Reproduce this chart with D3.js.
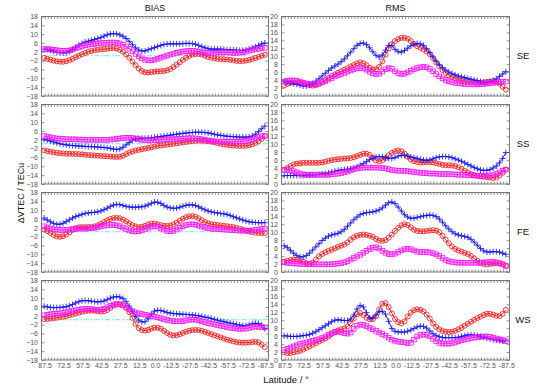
<!DOCTYPE html>
<html><head><meta charset="utf-8">
<script src="https://cdn.jsdelivr.net/npm/d3@7"></script>
<style>html,body{margin:0;padding:0;background:#fff;}svg{display:block;}</style>
</head><body>
<svg id="chart" width="537" height="387"></svg>
<script>
// ---- categories / ticks ----
const lat = [87.5,85,82.5,80,77.5,75,72.5,70,67.5,65,62.5,60,57.5,55,52.5,50,47.5,45,42.5,40,37.5,35,32.5,30,27.5,25,22.5,20,17.5,15,12.5,10,7.5,5,2.5,0,-2.5,-5,-7.5,-10,-12.5,-15,-17.5,-20,-22.5,-25,-27.5,-30,-32.5,-35,-37.5,-40,-42.5,-45,-47.5,-50,-52.5,-55,-57.5,-60,-62.5,-65,-67.5,-70,-72.5,-75,-77.5,-80,-82.5,-85,-87.5];
const xTickValues = [87.5,72.5,57.5,42.5,27.5,12.5,0,-12.5,-27.5,-42.5,-57.5,-72.5,-87.5];
const xTickLabels = ["87.5","72.5","57.5","42.5","27.5","12.5","0.0","-12.5","-27.5","-42.5","-57.5","-72.5","-87.5"];
const biasTicks = [18,14,10,6,2,-2,-6,-10,-14,-18];
const rmsTicks = [20,18,16,14,12,10,8,6,4,2,0];
const rowNames = ["SE","SS","FE","WS"];
const colNames = ["BIAS","RMS"];

// ---- series values (TECu) ----
const seBiasBlue = [3.0,2.8,2.5,2.0,1.6,1.4,1.3,1.5,2.0,2.8,3.8,4.8,5.6,6.2,6.6,7.0,7.4,7.8,8.3,8.9,9.5,9.9,10.0,9.9,9.5,8.8,7.8,6.5,5.0,3.6,2.6,2.1,2.2,2.7,3.2,3.7,4.2,4.7,5.1,5.3,5.4,5.4,5.4,5.4,5.5,5.6,5.6,5.5,5.2,4.7,4.1,3.6,3.2,3.0,3.0,3.0,3.0,2.9,2.8,2.7,2.6,2.5,2.4,2.4,2.6,3.0,3.5,4.1,4.7,5.3,5.8];
const seBiasRed = [-1.0,-1.4,-1.8,-2.2,-2.5,-2.7,-2.7,-2.5,-2.0,-1.4,-0.7,0.0,0.7,1.3,1.8,2.2,2.5,2.7,2.9,3.0,3.2,3.4,3.5,3.3,2.7,1.8,0.6,-0.9,-2.6,-4.3,-5.8,-6.9,-7.5,-7.6,-7.4,-7.2,-7.1,-7.0,-6.9,-6.6,-6.0,-5.1,-4.1,-3.0,-1.9,-0.9,-0.1,0.5,0.8,0.8,0.5,0.0,-0.5,-0.9,-1.2,-1.4,-1.5,-1.6,-1.7,-1.9,-2.1,-2.3,-2.4,-2.4,-2.2,-1.9,-1.5,-1.0,-0.5,0.0,0.4];
const seBiasMagenta = [3.0,3.0,2.9,2.7,2.5,2.3,2.2,2.2,2.4,2.8,3.3,3.8,4.3,4.7,5.0,5.2,5.4,5.6,5.7,5.8,5.9,6.0,6.0,5.9,5.6,5.0,4.2,3.2,2.0,0.8,-0.3,-1.2,-1.8,-2.1,-2.1,-1.8,-1.4,-0.9,-0.4,0.1,0.5,0.9,1.3,1.6,1.9,2.1,2.2,2.2,2.1,1.9,1.6,1.4,1.3,1.3,1.3,1.4,1.5,1.5,1.5,1.4,1.3,1.3,1.4,1.6,1.9,2.3,2.6,2.9,3.2,3.4,3.6];

const seRmsBlue = [3.6,3.4,3.2,3.0,2.8,2.6,2.4,2.4,2.6,3.0,3.6,4.2,4.9,5.6,6.3,6.9,7.4,7.9,8.5,9.2,10.0,10.9,11.8,12.6,13.1,13.2,12.8,12.0,11.0,10.1,9.7,10.2,11.4,12.6,12.6,11.6,11.0,10.9,11.3,11.9,12.5,12.9,13.1,13.0,12.6,11.8,10.8,9.7,8.6,7.7,7.0,6.4,5.9,5.5,5.2,4.9,4.7,4.5,4.3,4.1,3.9,3.7,3.5,3.4,3.4,3.5,3.8,4.2,4.8,5.4,6.0];
const seRmsRed = [2.6,2.9,3.2,3.3,3.3,3.2,3.0,2.8,2.6,2.5,2.6,2.9,3.4,3.9,4.4,4.9,5.3,5.7,6.1,6.5,6.9,7.3,7.7,8.1,8.3,8.1,7.6,7.0,6.6,6.6,7.2,8.6,10.3,11.8,12.9,13.7,14.2,14.5,14.5,14.3,13.7,13.0,12.4,12.0,11.6,11.1,10.4,9.4,8.3,7.3,6.4,5.7,5.1,4.7,4.3,4.0,3.8,3.6,3.5,3.4,3.3,3.2,3.2,3.3,3.4,3.5,3.6,3.5,3.0,2.2,1.5];
const seRmsMagenta = [3.5,3.7,3.8,3.8,3.7,3.5,3.2,3.0,2.9,2.8,2.8,3.0,3.3,3.6,4.0,4.4,4.8,5.1,5.4,5.7,6.0,6.3,6.6,6.8,6.9,6.8,6.5,6.0,5.6,5.4,5.5,6.0,6.6,6.9,6.7,6.1,5.6,5.4,5.5,5.8,6.2,6.6,6.9,7.1,7.2,7.1,6.7,6.1,5.4,4.8,4.3,3.9,3.6,3.4,3.2,3.1,3.0,2.9,2.9,2.8,2.8,2.8,2.8,2.9,3.0,3.1,3.2,3.3,3.4,3.5,3.5];

const ssBiasBlue = [2.0,1.6,1.2,0.8,0.4,0.0,-0.3,-0.5,-0.7,-0.8,-0.9,-1.0,-1.1,-1.2,-1.3,-1.3,-1.4,-1.5,-1.6,-1.7,-1.9,-2.1,-2.4,-2.6,-2.4,-1.6,-0.5,0.6,1.5,2.1,2.4,2.5,2.5,2.6,2.7,2.9,3.1,3.3,3.5,3.7,3.9,4.1,4.3,4.5,4.7,4.9,5.0,5.1,5.2,5.2,5.2,5.1,4.9,4.6,4.3,4.0,3.8,3.6,3.4,3.3,3.2,3.1,3.0,3.0,3.0,3.1,3.5,4.3,5.5,6.8,8.0];
const ssBiasRed = [-3.0,-3.3,-3.6,-3.9,-4.1,-4.3,-4.4,-4.5,-4.5,-4.6,-4.6,-4.7,-4.8,-5.0,-5.1,-5.2,-5.3,-5.4,-5.5,-5.6,-5.7,-5.8,-5.9,-6.0,-5.9,-5.4,-4.7,-4.0,-3.5,-3.1,-2.8,-2.5,-2.2,-1.9,-1.6,-1.3,-1.0,-0.8,-0.6,-0.4,-0.2,0.0,0.2,0.4,0.6,0.8,1.0,1.2,1.3,1.4,1.4,1.3,1.1,0.9,0.6,0.3,0.0,-0.3,-0.5,-0.7,-0.8,-0.9,-1.0,-1.0,-0.9,-0.7,-0.3,0.3,1.1,2.2,3.4];
const ssBiasMagenta = [3.5,3.2,2.9,2.6,2.4,2.3,2.2,2.1,2.0,2.0,2.0,1.9,1.9,1.8,1.8,1.8,1.8,1.8,1.8,1.8,1.8,1.9,2.0,2.2,2.4,2.6,2.7,2.7,2.6,2.4,2.1,1.8,1.6,1.5,1.5,1.6,1.7,1.8,1.9,2.0,2.0,2.0,2.1,2.2,2.3,2.4,2.5,2.5,2.4,2.2,2.0,1.8,1.5,1.3,1.1,1.0,0.9,0.9,0.9,0.9,0.9,0.9,1.0,1.1,1.3,1.6,2.0,2.5,3.0,3.4,3.7];

const ssRmsBlue = [2.0,2.0,2.0,2.0,2.0,2.0,2.0,2.1,2.1,2.2,2.2,2.3,2.4,2.5,2.7,2.9,3.1,3.3,3.4,3.5,3.6,3.7,3.9,4.2,4.6,5.0,5.5,6.0,6.4,6.7,6.8,6.7,6.5,6.3,6.3,6.5,6.9,7.1,7.1,6.9,6.7,6.5,6.3,6.1,5.9,5.8,5.9,6.2,6.5,6.7,6.8,6.8,6.7,6.5,6.2,5.9,5.6,5.2,4.8,4.4,4.0,3.7,3.4,3.3,3.3,3.5,3.9,4.4,5.2,6.3,7.8];
const ssRmsRed = [3.4,3.9,4.4,4.8,5.0,5.1,5.2,5.2,5.2,5.2,5.2,5.2,5.3,5.5,5.7,5.9,6.0,6.1,6.2,6.3,6.3,6.4,6.6,6.9,7.2,7.5,7.5,7.2,6.5,5.8,5.6,5.8,6.4,7.1,7.7,8.1,8.3,8.1,7.5,6.7,6.0,5.6,5.4,5.3,5.3,5.4,5.4,5.3,5.1,4.9,4.7,4.6,4.6,4.5,4.4,4.1,3.7,3.2,2.8,2.4,2.1,1.9,1.8,1.7,1.6,1.5,1.4,1.5,2.0,2.7,3.5];
const ssRmsMagenta = [3.5,3.4,3.3,3.1,2.8,2.5,2.3,2.2,2.2,2.2,2.2,2.2,2.2,2.2,2.2,2.3,2.4,2.5,2.6,2.8,3.0,3.3,3.6,3.8,3.9,4.0,4.0,4.0,4.0,4.0,4.0,3.9,3.8,3.6,3.4,3.3,3.2,3.2,3.2,3.1,3.0,2.9,2.8,2.7,2.6,2.6,2.5,2.5,2.5,2.4,2.4,2.4,2.4,2.3,2.3,2.2,2.2,2.2,2.1,2.1,2.0,2.0,1.9,1.9,1.9,2.0,2.1,2.4,2.8,3.2,3.5];

const feBiasBlue = [6.2,5.3,4.5,3.8,3.4,3.4,3.8,4.6,5.4,6.2,6.9,7.4,7.9,8.3,8.5,8.7,8.8,9.0,9.4,10.0,10.7,11.5,12.1,12.4,12.3,11.9,11.5,11.2,11.1,11.1,11.2,11.3,11.6,12.2,12.9,13.4,13.4,12.8,11.9,11.2,10.8,10.6,10.7,11.1,11.6,12.0,12.2,12.2,11.9,11.3,10.6,9.9,9.4,9.0,8.7,8.5,8.3,8.1,7.9,7.4,6.8,6.3,5.8,5.3,4.9,4.5,4.3,4.2,4.1,4.1,4.1];
const feBiasRed = [1.0,0.3,-0.6,-1.5,-2.1,-2.3,-2.0,-1.3,-0.3,0.8,1.6,2.0,2.1,2.1,2.1,2.2,2.4,2.9,3.6,4.4,5.2,5.8,6.2,6.3,6.1,5.5,4.7,3.8,3.0,2.4,2.1,2.2,2.7,3.3,3.7,3.7,3.4,3.0,2.7,2.6,2.8,3.3,4.1,5.0,5.9,6.6,7.0,7.1,6.8,6.1,5.2,4.4,3.8,3.4,3.2,3.0,2.9,2.7,2.5,2.3,2.1,1.8,1.4,0.9,0.5,0.1,-0.2,-0.4,-0.5,-0.6,-0.6];
const feBiasMagenta = [2.5,2.0,1.5,1.1,0.9,0.8,0.8,0.9,1.0,1.2,1.3,1.4,1.4,1.4,1.5,1.6,1.8,2.1,2.4,2.7,3.0,3.1,3.1,2.9,2.5,1.9,1.2,0.6,0.2,0.1,0.2,0.6,1.2,1.8,2.3,2.5,2.3,1.7,1.0,0.4,0.2,0.4,1.0,1.8,2.5,3.0,3.3,3.4,3.2,2.8,2.3,1.9,1.6,1.4,1.3,1.2,1.1,1.0,0.9,0.8,0.7,0.6,0.5,0.5,0.5,0.5,0.6,0.8,1.0,1.2,1.4];

const feRmsBlue = [6.5,6.0,5.3,4.6,4.0,3.7,3.7,4.0,4.6,5.4,6.2,7.0,7.8,8.4,8.9,9.2,9.4,9.6,10.0,10.6,11.4,12.2,13.0,13.7,14.3,14.6,14.8,14.9,15.0,15.2,15.5,16.0,16.7,17.3,17.5,17.1,16.2,15.2,14.3,13.7,13.4,13.4,13.6,13.8,14.0,14.1,14.2,14.1,13.8,13.2,12.4,11.5,10.7,10.0,9.5,9.2,9.0,8.8,8.6,8.1,7.4,6.6,5.8,5.2,4.9,4.9,5.0,5.0,4.9,4.6,4.3];
const feRmsRed = [2.5,2.7,2.9,3.0,3.0,2.8,2.5,2.1,1.9,2.2,3.0,3.8,4.4,4.8,5.2,5.5,5.8,6.2,6.5,6.8,7.3,8.0,8.6,9.0,9.2,9.3,9.2,9.0,8.7,8.2,7.8,7.7,7.9,8.5,9.3,10.2,11.0,11.6,11.9,11.7,11.1,10.5,10.2,10.1,10.1,10.2,10.3,10.4,10.3,9.9,9.0,8.0,7.1,6.3,5.7,5.3,5.0,4.7,4.4,3.9,3.3,2.7,2.2,1.9,1.8,1.9,2.0,2.1,2.0,1.8,1.5];
const feRmsMagenta = [2.3,2.2,2.1,2.0,2.0,1.9,1.9,1.9,1.8,1.8,1.8,1.8,1.8,1.8,1.8,1.8,1.9,2.0,2.1,2.3,2.6,3.0,3.4,3.8,4.2,4.7,5.2,5.6,6.0,6.1,5.8,5.2,4.7,4.4,4.3,4.5,4.9,5.3,5.6,5.7,5.6,5.3,5.0,4.9,4.9,4.9,4.8,4.6,4.3,3.9,3.4,2.9,2.6,2.4,2.3,2.2,2.2,2.2,2.2,2.2,2.2,2.2,2.2,2.3,2.3,2.4,2.4,2.3,2.1,1.8,1.4];

const wsBiasBlue = [6.1,5.8,5.6,5.5,5.5,5.6,5.7,5.9,6.3,6.9,7.6,8.2,8.6,8.7,8.6,8.4,8.2,8.1,8.2,8.5,9.1,9.8,10.3,10.5,10.3,9.6,8.2,6.2,3.8,1.5,-0.2,-1.0,-0.9,0.5,2.5,3.9,4.3,4.2,3.8,3.3,3.0,2.8,2.7,2.6,2.5,2.4,2.3,2.2,2.0,1.8,1.5,1.2,0.9,0.6,0.2,-0.2,-0.6,-0.9,-1.2,-1.5,-1.8,-2.1,-2.4,-2.6,-2.6,-2.3,-1.8,-1.6,-1.7,-2.4,-4.0];
const wsBiasRed = [0.3,0.4,0.5,0.7,0.9,1.1,1.4,1.7,2.0,2.4,2.8,3.2,3.6,3.9,4.1,4.2,4.1,3.9,3.7,3.8,4.4,5.4,6.4,6.9,7.0,6.6,5.4,3.4,0.8,-1.8,-3.8,-4.7,-4.9,-4.6,-4.0,-3.6,-3.6,-4.1,-5.0,-6.0,-6.8,-7.1,-7.0,-6.6,-6.0,-5.4,-5.0,-4.7,-4.6,-4.7,-5.0,-5.5,-6.0,-6.5,-7.0,-7.5,-8.0,-8.5,-9.0,-9.4,-9.8,-10.1,-10.3,-10.4,-10.4,-10.3,-10.1,-10.0,-10.3,-11.2,-12.4];
const wsBiasMagenta = [2.0,2.2,2.5,2.7,2.8,2.9,3.1,3.4,3.7,4.0,4.3,4.6,4.8,4.9,4.9,4.8,4.6,4.5,4.6,5.0,5.7,6.4,6.9,7.1,7.0,6.5,5.7,4.7,3.9,3.3,2.9,2.6,2.3,2.0,1.7,1.4,1.1,0.7,0.3,-0.1,-0.4,-0.6,-0.7,-0.7,-0.6,-0.3,0.0,0.1,0.0,-0.3,-0.7,-1.1,-1.5,-1.8,-2.1,-2.4,-2.7,-3.0,-3.3,-3.6,-3.8,-4.0,-4.1,-4.1,-4.0,-3.7,-3.3,-3.1,-3.2,-3.4,-3.5];

const wsRmsBlue = [6.0,5.9,5.8,5.8,5.8,5.9,6.0,6.1,6.3,6.6,7.0,7.5,8.0,8.5,9.0,9.5,9.9,10.0,9.9,9.8,9.8,10.2,11.2,12.7,13.6,13.2,11.8,10.5,10.4,11.2,12.0,12.1,11.4,9.6,7.8,7.1,6.9,6.9,6.9,7.1,7.4,7.8,8.2,8.4,8.3,7.9,7.2,6.5,6.0,5.7,5.5,5.5,5.5,5.5,5.5,5.6,5.8,6.0,6.2,6.2,6.1,6.0,5.8,5.6,5.4,5.2,5.0,4.9,4.8,4.7,4.7];
const wsRmsRed = [1.8,1.6,1.6,1.8,2.0,2.2,2.5,2.9,3.3,3.7,4.1,4.5,4.9,5.3,5.8,6.4,6.9,7.3,7.6,7.8,8.3,9.1,10.3,11.4,11.7,11.2,10.5,10.1,10.1,10.9,12.6,14.0,14.2,13.2,11.6,10.2,9.4,9.1,9.6,10.8,11.8,12.4,12.6,12.5,12.1,11.3,10.3,9.1,8.2,7.6,7.2,7.0,6.9,7.0,7.2,7.6,8.0,8.5,9.0,9.5,10.0,10.4,10.8,11.2,11.5,11.5,11.3,11.0,10.9,11.5,12.5];
const wsRmsMagenta = [2.4,2.7,3.0,3.3,3.6,3.9,4.1,4.3,4.5,4.7,4.9,5.1,5.4,5.8,6.2,6.6,6.9,7.0,6.9,6.6,6.5,6.8,7.7,8.5,8.8,8.7,8.4,8.0,7.6,7.2,6.8,6.4,6.0,5.5,5.0,4.7,4.5,4.4,4.3,4.1,4.2,5.0,5.8,6.2,6.3,6.2,5.8,5.2,4.6,4.2,4.0,4.0,4.0,4.1,4.3,4.6,4.8,5.0,5.2,5.4,5.5,5.6,5.7,5.8,5.8,5.7,5.5,5.3,5.1,4.9,4.6];

// ---- table built from the arrays ----
const panelData = {
  SE: {BIAS: {red: seBiasRed, blue: seBiasBlue, magenta: seBiasMagenta}, RMS: {red: seRmsRed, blue: seRmsBlue, magenta: seRmsMagenta}},
  SS: {BIAS: {red: ssBiasRed, blue: ssBiasBlue, magenta: ssBiasMagenta}, RMS: {red: ssRmsRed, blue: ssRmsBlue, magenta: ssRmsMagenta}},
  FE: {BIAS: {red: feBiasRed, blue: feBiasBlue, magenta: feBiasMagenta}, RMS: {red: feRmsRed, blue: feRmsBlue, magenta: feRmsMagenta}},
  WS: {BIAS: {red: wsBiasRed, blue: wsBiasBlue, magenta: wsBiasMagenta}, RMS: {red: wsRmsRed, blue: wsRmsBlue, magenta: wsRmsMagenta}}
};

// ---- layout ----
const svg = d3.select("#chart");
const colX = {BIAS: [41, 268], RMS: [281, 509]};
const rowTop = [16, 104, 192, 280];
const panelH = 79.5;
const colors = {red: "#ff1010", blue: "#1010ff", magenta: "#ff10ff"};
const axisColor = "#777";
const labelColor = "#555";
const font = "'Liberation Sans', Arial, sans-serif";

const seriesOrder = ["red", "blue", "magenta"];

rowNames.forEach((rn, ri) => {
  colNames.forEach(cn => {
    const [x0, x1] = colX[cn];
    const top = rowTop[ri], bot = top + panelH;
    const x = d3.scaleLinear().domain([90, -90]).range([x0, x1]);
    const y = cn === "BIAS" ? d3.scaleLinear().domain([-18, 18]).range([bot, top])
                            : d3.scaleLinear().domain([0, 20]).range([bot, top]);
    const yTicks = cn === "BIAS" ? biasTicks : rmsTicks;
    const g = svg.append("g");

    g.append("rect").attr("x", x0 + 0.5).attr("y", top + 0.5)
      .attr("width", x1 - x0).attr("height", panelH)
      .attr("fill", "none").attr("stroke", axisColor).attr("stroke-width", 1);

    const yAxisL = d3.axisLeft(y).tickValues(yTicks).tickSize(-3).tickPadding(3.5).tickFormat(d3.format("d"));
    g.append("g").attr("transform", `translate(${x0 + 0.5},0.5)`).call(yAxisL);
    const yAxisR = d3.axisRight(y).tickValues(yTicks).tickSize(-3).tickFormat("");
    g.append("g").attr("transform", `translate(${x1 + 0.5},0.5)`).call(yAxisR);

    const xAxisT = d3.axisTop(x).tickValues(lat).tickSize(-2.5).tickFormat("");
    g.append("g").attr("transform", `translate(0.5,${top + 0.5})`).call(xAxisT);
    const xAxisB = d3.axisBottom(x).tickValues(lat).tickSize(-2.5).tickFormat("");
    g.append("g").attr("transform", `translate(0.5,${bot + 0.5})`).call(xAxisB);
    if (ri === rowNames.length - 1) {
      const xAxisL = d3.axisBottom(x).tickValues(xTickValues).tickSize(0).tickPadding(3)
        .tickFormat((d, i) => xTickLabels[i]);
      g.append("g").attr("transform", `translate(0.5,${bot + 0.5})`).call(xAxisL);
    }
    g.selectAll(".domain").remove();
    g.selectAll(".tick line").attr("stroke", axisColor).attr("stroke-width", 0.8);
    g.selectAll(".tick text").attr("fill", labelColor).style("font-family", font).style("font-size", "7px");

    if (cn === "BIAS") {
      g.append("line").attr("x1", x0 + 1).attr("x2", x1).attr("y1", y(0)).attr("y2", y(0))
        .attr("stroke", "#5ee8e8").attr("stroke-width", 1).attr("stroke-dasharray", "5,2,1.5,2");
    }

    const data = panelData[rn][cn];
    seriesOrder.forEach(s => {
      const vals = data[s];
      const pts = lat.map((la, i) => [la, vals[i]]).filter(p => p[1] !== undefined);
      const line = d3.line().x(p => x(p[0])).y(p => y(p[1]));
      g.append("path").attr("d", line(pts)).attr("fill", "none")
        .attr("stroke", colors[s]).attr("stroke-width", 0.9);
      const mg = g.append("g").attr("stroke", colors[s]).attr("fill", "none").attr("stroke-width", 0.8);
      if (s === "blue") {
        mg.selectAll("path").data(pts).join("path")
          .attr("d", p => `M${x(p[0]) - 3},${y(p[1])}H${x(p[0]) + 3}M${x(p[0])},${y(p[1]) - 3}V${y(p[1]) + 3}`);
      } else if (s === "red") {
        mg.selectAll("circle").data(pts).join("circle")
          .attr("cx", p => x(p[0])).attr("cy", p => y(p[1])).attr("r", 2.5);
      } else {
        mg.selectAll("rect").data(pts).join("rect")
          .attr("x", p => x(p[0]) - 2.3).attr("y", p => y(p[1]) - 2.3)
          .attr("width", 4.6).attr("height", 4.6);
      }
    });
  });
  svg.append("text").attr("x", 523).attr("y", rowTop[ri] + panelH / 2 + 3.5)
    .attr("text-anchor", "middle").style("font-family", font).style("font-size", "9.5px")
    .attr("fill", "#111").text(rn);
});

colNames.forEach(cn => {
  const [x0, x1] = colX[cn];
  svg.append("text").attr("x", (x0 + x1) / 2 + 0.5).attr("y", 11)
    .attr("text-anchor", "middle").style("font-family", font).style("font-size", "9px")
    .attr("fill", "#111").text(cn);
});

svg.append("text").attr("transform", "translate(23.5,193) rotate(-90)")
  .attr("text-anchor", "middle").style("font-family", font).style("font-size", "9px")
  .attr("fill", "#111").text("ΔVTEC / TECu");
svg.append("text").attr("x", 286).attr("y", 383)
  .attr("text-anchor", "middle").style("font-family", font).style("font-size", "9.5px")
  .attr("fill", "#111").text("Latitude / °");
</script>
</body></html>
